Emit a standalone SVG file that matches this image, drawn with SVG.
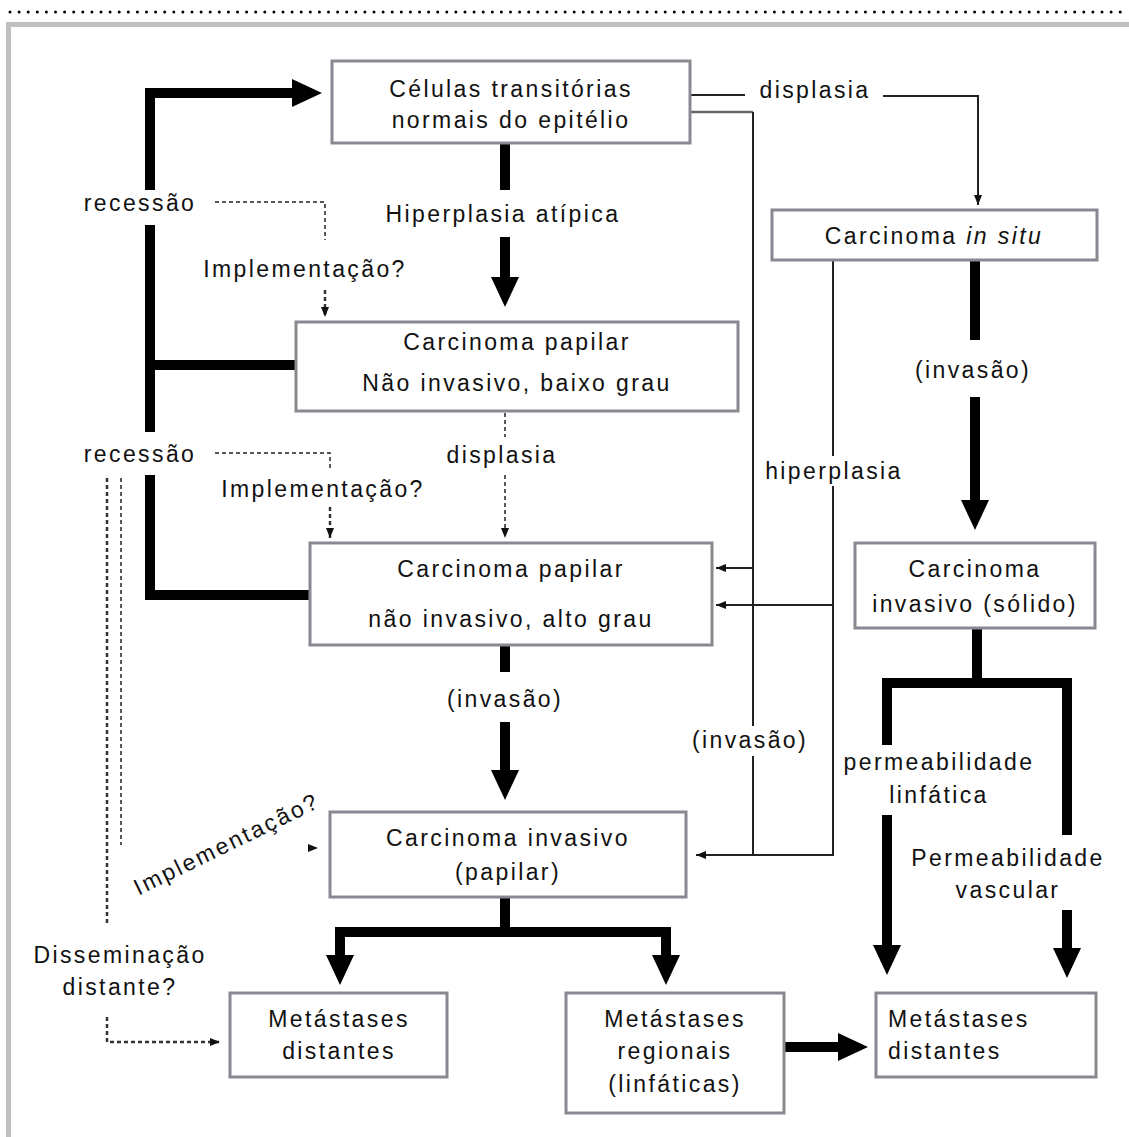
<svg xmlns="http://www.w3.org/2000/svg" width="1129" height="1137" viewBox="0 0 1129 1137">
<defs>
<style>
.box{fill:#fff;stroke:#8a8890;stroke-width:3}
.t{font-family:"Liberation Sans",Arial,sans-serif;font-size:23px;letter-spacing:2.4px;fill:#111;text-anchor:middle}
.tl{text-anchor:start}
.thick{fill:none;stroke:#000;stroke-width:10;stroke-linejoin:miter}
.thin{fill:none;stroke:#222;stroke-width:2}
.thing{fill:none;stroke:#666;stroke-width:2.5}
.dash{fill:none;stroke:#222;stroke-width:1.5;stroke-dasharray:4 3}
.dash2{fill:none;stroke:#333;stroke-width:2.5;stroke-dasharray:4 3}
.bg{fill:#fff}
</style>
<marker id="ah" markerUnits="userSpaceOnUse" viewBox="0 0 30 28" refX="0" refY="14" markerWidth="30" markerHeight="28" orient="auto"><path d="M0,0 L30,14 L0,28 z" fill="#000"/></marker>
<marker id="sa" markerUnits="userSpaceOnUse" viewBox="0 0 10 8" refX="10" refY="4" markerWidth="10" markerHeight="8" orient="auto"><path d="M0,0 L10,4 L0,8 z" fill="#111"/></marker>
</defs>
<rect width="1129" height="1137" fill="#fff"/>
<line x1="10" y1="12" x2="1129" y2="12" stroke="#000" stroke-width="3" stroke-linecap="round" stroke-dasharray="0 9.1"/>
<path d="M8.5,1137 V24.5 H1129" fill="none" stroke="#c0c0c0" stroke-width="5"/>

<g id="connectors">
<path class="thin" d="M690,95 H745"/>
<path class="thin" d="M883,96 H978 V205" marker-end="url(#sa)"/>
<path class="thing" d="M690,112 H753"/>
<path class="thin" d="M753,112 V855 H696" marker-end="url(#sa)"/>
<path class="thin" d="M753,568 H716" marker-end="url(#sa)"/>
<path class="thin" d="M833,260 V855 H753"/>
<path class="thin" d="M833,605 H716" marker-end="url(#sa)"/>
<path class="thick" d="M505,143 V190"/>
<path class="thick" d="M505,237 V277" marker-end="url(#ah)"/>
<path class="thick" d="M150,190 V93 H292" marker-end="url(#ah)"/>
<path class="thick" d="M150,225 V432"/>
<path class="thick" d="M150,365 H296"/>
<path class="thick" d="M150,475 V595 H310"/>
<path class="thick" d="M975,260 V340"/>
<path class="thick" d="M975,397 V500" marker-end="url(#ah)"/>
<path class="thick" d="M977,628 V683"/>
<path class="thick" d="M887,745 V683 H1067 V835"/>
<path class="thick" d="M887,815 V945" marker-end="url(#ah)"/>
<path class="thick" d="M1067,910 V948" marker-end="url(#ah)"/>
<path class="thick" d="M505,645 V672"/>
<path class="thick" d="M505,722 V770" marker-end="url(#ah)"/>
<path class="thick" d="M505,897 V932"/>
<path class="thick" d="M340,955 V932 H666 V955" marker-end="url(#ah)"/>
<path class="thick" d="M340,940 V955" marker-end="url(#ah)"/>
<path class="thick" d="M784,1047 H838" marker-end="url(#ah)"/>
<path class="dash" d="M215,202 H325 V240"/>
<path class="dash2" d="M325,290 V317" marker-end="url(#sa)"/>
<path class="dash" d="M215,453 H330 V470"/>
<path class="dash2" d="M330,507 V538" marker-end="url(#sa)"/>
<path class="dash" d="M505,413 V437"/>
<path class="dash" d="M505,475 V538" marker-end="url(#sa)"/>
<path class="dash2" d="M107,478 V925"/>
<path class="dash2" d="M107,1017 V1042 H220" marker-end="url(#sa)"/>
<path class="dash" d="M121,478 V845"/>
<path class="dash" d="M312,848 H318" marker-end="url(#sa)"/>
</g>

<g id="labels">
<text class="t" x="815" y="98">displasia</text>
<text class="t" x="503" y="222">Hiperplasia atípica</text>
<text class="t" x="140" y="211">recessão</text>
<text class="t" x="305" y="277">Implementação?</text>
<text class="t" x="973" y="378">(invasão)</text>
<text class="t" x="140" y="462">recessão</text>
<text class="t" x="323" y="497">Implementação?</text>
<text class="t" x="502" y="463">displasia</text>
<rect class="bg" x="762" y="456" width="142" height="30"/>
<text class="t" x="834" y="479">hiperplasia</text>
<text class="t" x="505" y="707">(invasão)</text>
<rect class="bg" x="686" y="726" width="126" height="30"/>
<text class="t" x="750" y="748">(invasão)</text>
<text class="t" x="939" y="770">permeabilidade</text>
<text class="t" x="939" y="803">linfática</text>
<text class="t" x="1008" y="866">Permeabilidade</text>
<text class="t" x="1008" y="898">vascular</text>
<text class="t" x="230" y="851" transform="rotate(-26 230 851)">Implementação?</text>
<text class="t" x="120" y="963">Disseminação</text>
<text class="t" x="120" y="995">distante?</text>
</g>

<g id="n1"><rect class="box" x="332" y="61" width="358" height="82"/>
<text class="t" x="511" y="97">Células transitórias</text>
<text class="t" x="511" y="128">normais do epitélio</text></g>
<g id="n2"><rect class="box" x="772" y="210" width="325" height="50"/>
<text class="t" x="934" y="244">Carcinoma <tspan font-style="italic">in situ</tspan></text></g>
<g id="n3"><rect class="box" x="296" y="322" width="442" height="89"/>
<text class="t" x="517" y="350">Carcinoma papilar</text>
<text class="t" x="517" y="391">Não invasivo, baixo grau</text></g>
<g id="n4"><rect class="box" x="310" y="543" width="402" height="102"/>
<text class="t" x="511" y="577">Carcinoma papilar</text>
<text class="t" x="511" y="627">não invasivo, alto grau</text></g>
<g id="n5"><rect class="box" x="855" y="543" width="240" height="85"/>
<text class="t" x="975" y="577">Carcinoma</text>
<text class="t" x="975" y="612">invasivo (sólido)</text></g>
<g id="n6"><rect class="box" x="330" y="812" width="356" height="85"/>
<text class="t" x="508" y="846">Carcinoma invasivo</text>
<text class="t" x="508" y="880">(papilar)</text></g>
<g id="n7"><rect class="box" x="230" y="993" width="217" height="84"/>
<text class="t" x="339" y="1027">Metástases</text>
<text class="t" x="339" y="1059">distantes</text></g>
<g id="n8"><rect class="box" x="566" y="993" width="218" height="120"/>
<text class="t" x="675" y="1027">Metástases</text>
<text class="t" x="675" y="1059">regionais</text>
<text class="t" x="675" y="1092">(linfáticas)</text></g>
<g id="n9"><rect class="box" x="876" y="993" width="220" height="84"/>
<text class="t tl" x="888" y="1027">Metástases</text>
<text class="t tl" x="888" y="1059">distantes</text></g>
</svg>
